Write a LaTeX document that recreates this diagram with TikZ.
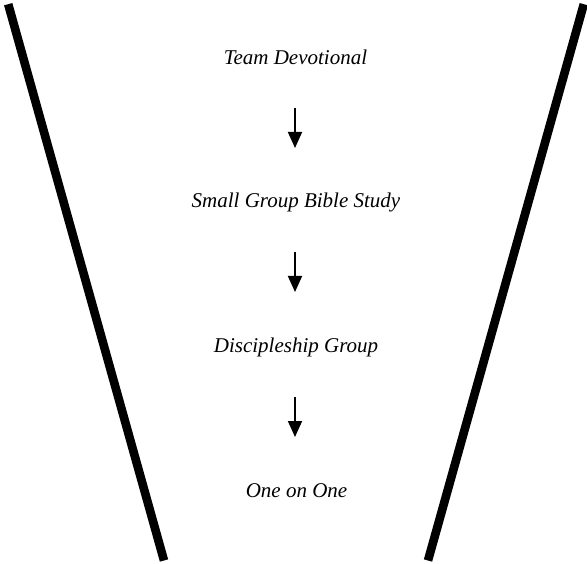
\documentclass[tikz,border=0pt]{standalone}
\usepackage{fontspec}
\setmainfont{Liberation Serif}
\usetikzlibrary{arrows.meta}
\begin{document}
\begin{tikzpicture}[x=1pt,y=-1pt,
  wall/.style={line width=8.6pt,line cap=butt},
  label/.style={font=\fontsize{21}{25}\selectfont\itshape,anchor=base,inner sep=0pt},
  flow/.style={line width=1.8pt,-{Triangle[length=16pt,width=14pt]}}]
\useasboundingbox (0,0) rectangle (587,564);
\coordinate (lt) at (8.2,4.2);
\coordinate (lb) at (164,560.5);
\coordinate (rt) at (583.8,4.2);
\coordinate (rb) at (428,560.5);
\draw[wall] (lt) -- (lb);
\draw[wall] (rt) -- (rb);
\node[label] (t1) at (295.5,65) {Team Devotional};
\node[label] (t2) at (296,208) {Small Group Bible Study};
\node[label] (t3) at (296,353) {Discipleship Group};
\node[label] (t4) at (296.5,497) {One on One};
\coordinate (a1s) at (295,108);
\coordinate (a1e) at (295,148);
\coordinate (a2s) at (295,252);
\coordinate (a2e) at (295,292);
\coordinate (a3s) at (295,397);
\coordinate (a3e) at (295,437);
\draw[flow] (a1s) -- (a1e);
\draw[flow] (a2s) -- (a2e);
\draw[flow] (a3s) -- (a3e);
\end{tikzpicture}
\end{document}
